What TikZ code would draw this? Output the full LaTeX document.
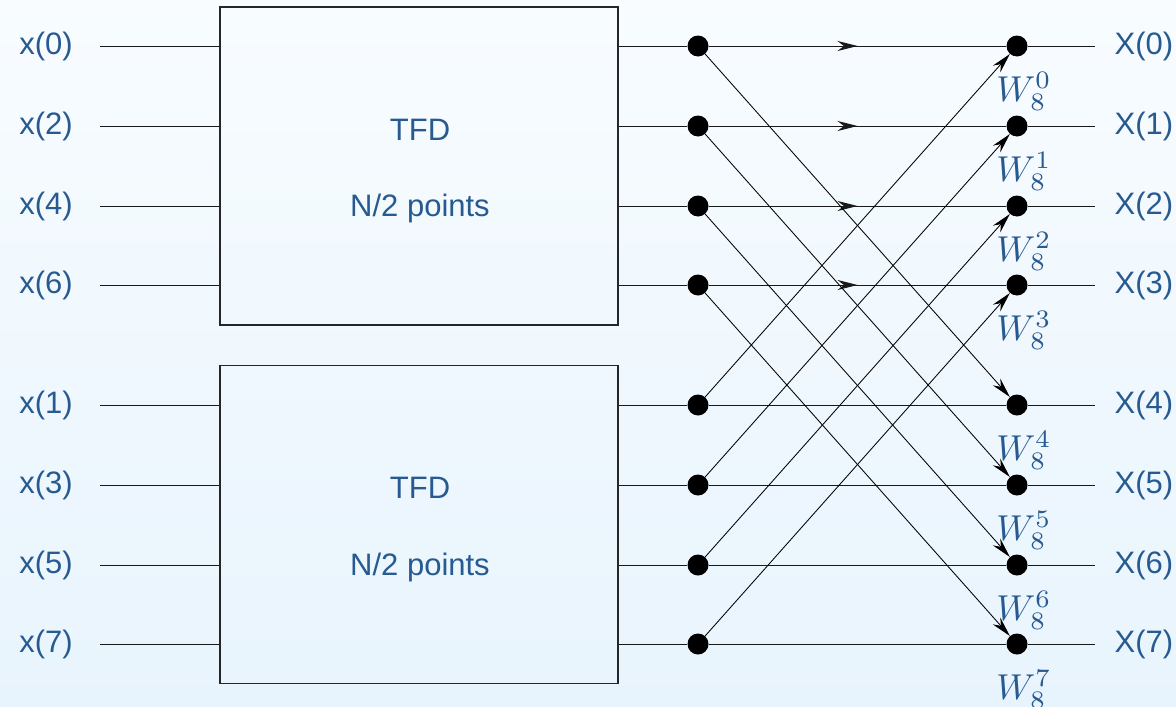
\documentclass[tikz,border=0pt]{standalone}
\usepackage{fix-cm}
\usepackage{fontspec}
\setmainfont{Liberation Sans}
\usetikzlibrary{arrows.meta,decorations.markings}
\definecolor{txt}{RGB}{38,90,145}
\definecolor{bgtop}{RGB}{248,252,255}
\definecolor{bgbot}{RGB}{232,244,253}
\begin{document}
\begin{tikzpicture}[x=1pt,y=-1pt,
  lbl/.style={text=txt, font=\fontsize{31}{37}\selectfont, inner sep=0pt},
  wlbl/.style={text=txt, font=\fontsize{10}{12}\selectfont, scale=3.6, inner sep=0pt},
  dot/.style={circle, fill=black, minimum size=21pt, inner sep=0pt},
  blk/.style={draw=black!85, line width=1.1pt, minimum width=398pt, minimum height=318pt, inner sep=0pt},
  wire/.style={line width=1pt, draw=black!90},
  diag/.style={line width=0.85pt, -{Stealth[length=20pt,width=10pt]}},
  midarrow/.style={postaction={decorate}, decoration={markings, mark=at position 0.5 with {\arrow{Stealth[length=20pt,width=10pt]}}}}
]
\shade[top color=bgtop, bottom color=bgbot] (0,0) rectangle (1176,707);
\useasboundingbox (0,0) rectangle (1176,707);

\node[blk] (box1) at (419,166) {};
\node[blk] (box2) at (419,524.5) {};
\node[lbl] (t1) at (420,130) {TFD};
\node[lbl] (p1) at (420,208) {N/2 points};
\node[lbl] (t2) at (420,488) {TFD};
\node[lbl] (p2) at (420,567) {N/2 points};

\foreach \i/\y/\n in {0/46/0,1/126/2,2/206/4,3/285/6,4/405/1,5/485/3,6/565/5,7/644/7} {
  \node[lbl] (in\i) at (46,\y) {x(\n)};
  \coordinate (a\i) at (100,\y);
  \node[dot] (l\i) at (698,\y) {};
  \node[dot] (r\i) at (1017,\y) {};
  \coordinate (o\i) at (1095,\y);
  \node[lbl] (out\i) at (1144,\y) {X(\i)};
  \node[wlbl] (w\i) at (1024,\y+45) {$W_8^{\i}$};
}

\foreach \i in {0,...,3} {
  \draw[wire] (a\i) -- (box1.west |- a\i);
  \draw[wire] (box1.east |- l\i) -- (l\i);
  \draw[wire, midarrow] (l\i) -- (r\i);
  \draw[wire] (r\i) -- (o\i);
}
\foreach \i in {4,...,7} {
  \draw[wire] (a\i) -- (box2.west |- a\i);
  \draw[wire] (box2.east |- l\i) -- (l\i);
  \draw[wire] (l\i) -- (r\i);
  \draw[wire] (r\i) -- (o\i);
}
\foreach \i/\j in {0/4,1/5,2/6,3/7} {
  \draw[diag] (l\i) -- (r\j);
  \draw[diag] (l\j) -- (r\i);
}
\end{tikzpicture}
\end{document}
